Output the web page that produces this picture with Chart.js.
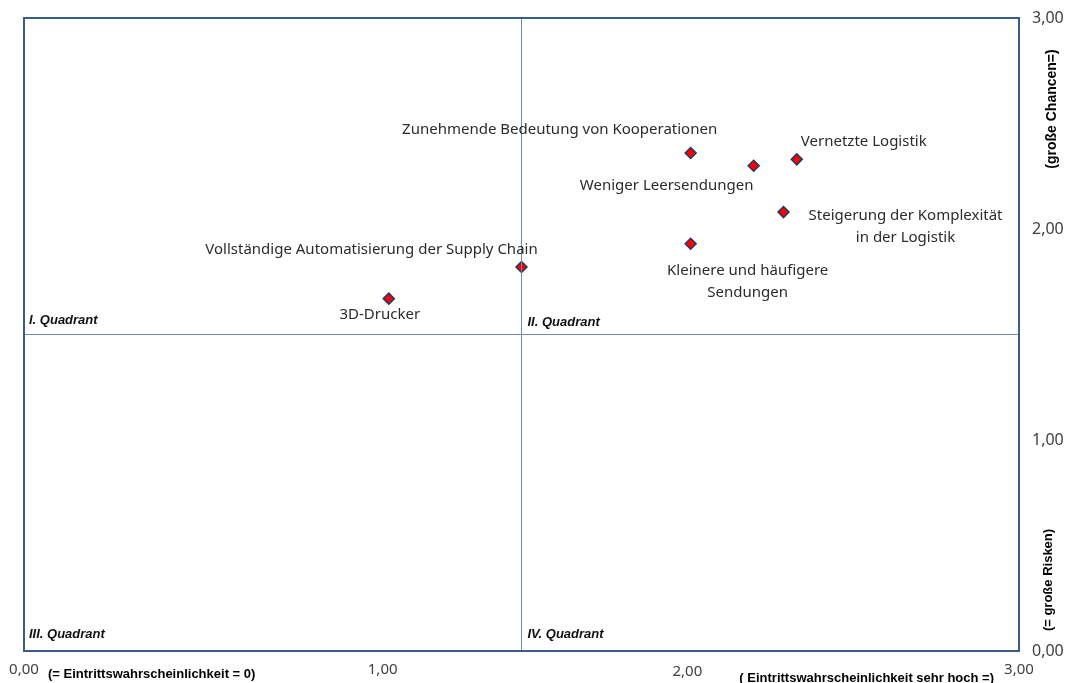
<!DOCTYPE html>
<html>
<head>
<meta charset="utf-8">
<script src="https://cdn.jsdelivr.net/npm/chart.js@4/dist/chart.umd.min.js"></script>
<style>
  html, body { margin: 0; padding: 0; background: #ffffff; }
  #wrap { width: 1068px; height: 683px; position: relative; }
</style>
</head>
<body>
<div id="wrap"><canvas id="c"></canvas></div>
<script>
// ---------------- DATA ----------------
const categories = [
  'Zunehmende Bedeutung von Kooperationen',
  'Weniger Leersendungen',
  'Vernetzte Logistik',
  ['Steigerung der Komplexität', 'in der Logistik'],
  ['Kleinere und häufigere', 'Sendungen'],
  'Vollständige Automatisierung der Supply Chain',
  '3D-Drucker'
];
const xValues = [2.01, 2.20, 2.33, 2.29, 2.01, 1.50, 1.10];
const yValues = [2.36, 2.30, 2.33, 2.08, 1.93, 1.82, 1.67];

const xTickValues = [0, 1, 2, 3];
const yTickValues = [0, 1, 2, 3];
const xTickLabels = ['0,00', '1,00', '2,00', '3,00'];
const yTickLabels = ['0,00', '1,00', '2,00', '3,00'];

const quadrantSplitX = 1.5;
const quadrantSplitY = 1.5;
const quadrantNames = ['I. Quadrant', 'II. Quadrant', 'III. Quadrant', 'IV. Quadrant'];

const xCaptionLow = '(= Eintrittswahrscheinlichkeit = 0)';
const xCaptionHigh = '( Eintrittswahrscheinlichkeit sehr hoch =)';
const yCaptionHigh = '(große Chancen=)';
const yCaptionLow = '(= große Risken)';

// ---------------- LAYOUT / STYLE ----------------
// label offsets in pixels relative to each point (center of text)
const labelOffsets = [
  { dx: -131, dy: -23 },
  { dx: -87, dy: 20 },
  { dx: 67, dy: -18 },
  { dx: 122, dy: 4 },
  { dx: 57, dy: 27 },
  { dx: -150, dy: -17 },
  { dx: -9, dy: 16 }
];
const xTickNudge = [{ dx: 0, dy: 0 }, { dx: 27, dy: 0 }, { dx: 0, dy: 2 }, { dx: 0, dy: 0 }];
const labelFont = '15px "Noto Sans"';
const labelLineH = 22;
const textColor = '#2b2b2b';
const borderColor = '#3a5d88';
const quadLineColor = '#6f8bb0';

const pointData = xValues.map((x, i) => ({ x: x, y: yValues[i] }));

const tickNudgePlugin = {
  id: 'tickNudge',
  beforeDraw(chart) {
    const sx = chart.scales.x;
    const items = sx.getLabelItems();
    if (!items._nudged) {
      items.forEach((it, i) => {
        const n = xTickNudge[i] || { dx: 0, dy: 0 };
        it.options.translation = [it.options.translation[0] + n.dx, it.options.translation[1] + n.dy];
      });
      items._nudged = true;
    }
  }
};

const decorPlugin = {
  id: 'decor',
  afterDatasetsDraw(chart) {
    const ctx = chart.ctx;
    const a = chart.chartArea;
    const sx = chart.scales.x, sy = chart.scales.y;
    ctx.save();
    // frame
    ctx.strokeStyle = borderColor;
    ctx.lineWidth = 2;
    ctx.strokeRect(a.left, a.top, a.right - a.left, a.bottom - a.top);

    // data labels
    ctx.fillStyle = textColor;
    ctx.font = labelFont;
    ctx.textAlign = 'center';
    ctx.textBaseline = 'middle';
    const meta = chart.getDatasetMeta(2);
    meta.data.forEach((pt, i) => {
      const off = labelOffsets[i];
      const lines = Array.isArray(categories[i]) ? categories[i] : [categories[i]];
      lines.forEach((ln, j) => {
        ctx.fillText(ln, pt.x + off.dx, pt.y + off.dy + j * labelLineH);
      });
    });

    // quadrant names
    const mx = sx.getPixelForValue(quadrantSplitX);
    const my = sy.getPixelForValue(quadrantSplitY);
    ctx.fillStyle = '#111111';
    ctx.font = 'italic bold 13px "Liberation Sans"';
    ctx.textAlign = 'left';
    ctx.fillText(quadrantNames[0], a.left + 5, my - 14);
    ctx.fillText(quadrantNames[1], mx + 6, my - 12);
    ctx.fillText(quadrantNames[2], a.left + 5, a.bottom - 17);
    ctx.fillText(quadrantNames[3], mx + 6, a.bottom - 17);

    // axis captions
    ctx.fillStyle = '#000000';
    ctx.font = 'bold 13px "Liberation Sans"';
    ctx.textAlign = 'left';
    ctx.fillText(xCaptionLow, 48, 674);
    ctx.textAlign = 'right';
    ctx.fillText(xCaptionHigh, 994, 678);

    ctx.textAlign = 'center';
    ctx.save();
    ctx.translate(1052, 109);
    ctx.rotate(-Math.PI / 2);
    ctx.font = 'bold 14px "Liberation Sans"';
    ctx.fillText(yCaptionHigh, 0, 0);
    ctx.restore();
    ctx.save();
    ctx.translate(1048, 580);
    ctx.rotate(-Math.PI / 2);
    ctx.font = 'bold 13px "Liberation Sans"';
    ctx.fillText(yCaptionLow, 0, 0);
    ctx.restore();

    ctx.restore();
  }
};

new Chart(document.getElementById('c'), {
  type: 'scatter',
  data: {
    datasets: [
      {
        type: 'line',
        data: [{ x: quadrantSplitX, y: yTickValues[0] }, { x: quadrantSplitX, y: yTickValues[yTickValues.length - 1] }],
        borderColor: quadLineColor, borderWidth: 1, pointRadius: 0, fill: false, showLine: true
      },
      {
        type: 'line',
        data: [{ x: xTickValues[0], y: quadrantSplitY }, { x: xTickValues[xTickValues.length - 1], y: quadrantSplitY }],
        borderColor: quadLineColor, borderWidth: 1, pointRadius: 0, fill: false, showLine: true
      },
      {
        data: pointData,
        pointStyle: 'rectRot',
        pointRadius: 5.5,
        pointHoverRadius: 5.5,
        backgroundColor: '#ff0000',
        borderColor: '#1f3a64',
        borderWidth: 1.5
      }
    ]
  },
  options: {
    responsive: true,
    maintainAspectRatio: false,
    animation: false,
    layout: { padding: { left: 24, top: 18, right: 0, bottom: 0 } },
    plugins: { legend: { display: false }, tooltip: { enabled: false } },
    scales: {
      x: {
        type: 'linear',
        position: 'bottom',
        min: xTickValues[0],
        max: xTickValues[xTickValues.length - 1],
        afterBuildTicks: (s) => { s.ticks = xTickValues.map(v => ({ value: v })); },
        afterFit: (s) => { s.height = 32; s.paddingLeft = 0; s.paddingRight = 0; },
        grid: { display: false, drawTicks: false },
        border: { display: false },
        ticks: {
          padding: 10,
          color: '#404040',
          font: { family: '"Noto Sans"', size: 15 },
          maxRotation: 0,
          autoSkip: false,
          callback: (v, i) => xTickLabels[i]
        }
      },
      y: {
        type: 'linear',
        position: 'right',
        min: yTickValues[0],
        max: yTickValues[yTickValues.length - 1],
        afterBuildTicks: (s) => { s.ticks = yTickValues.map(v => ({ value: v })); },
        afterFit: (s) => { s.width = 49; s.paddingTop = 0; s.paddingBottom = 0; },
        grid: { display: false, drawTicks: false },
        border: { display: false },
        ticks: {
          padding: 13,
          color: '#404040',
          font: { family: '"Noto Sans"', size: 16 },
          autoSkip: false,
          callback: (v, i) => yTickLabels[i]
        }
      }
    }
  },
  plugins: [tickNudgePlugin, decorPlugin]
});
</script>
</body>
</html>
